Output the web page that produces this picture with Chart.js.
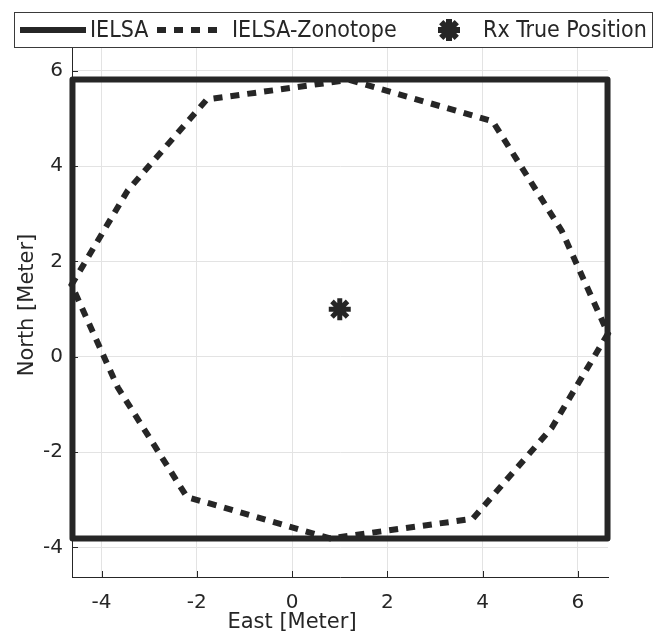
<!DOCTYPE html>
<html>
<head>
<meta charset="utf-8">
<title>IELSA position bounds</title>
<script src="https://cdn.jsdelivr.net/npm/chart.js@4.4.1/dist/chart.umd.min.js"></script>
<style>
  html, body { margin: 0; padding: 0; background: #fff; }
  #wrap { width: 659px; height: 642px; }
</style>
</head>
<body>
<div id="wrap"><canvas id="chartPos" width="659" height="642"></canvas></div>
<script>
/*** data ***/
// IELSA bounding box (closed)
const rectX = [-4.61, 6.62, 6.62, -4.61, -4.61];
const rectY = [-3.81, -3.81, 5.82, 5.82, -3.81];
// IELSA-Zonotope vertices (closed)
const zonoX = [1.2, 4.21, 5.66, 6.63, 5.45, 3.79, 0.8, -2.21, -3.66, -4.63, -3.45, -1.79, 1.2];
const zonoY = [5.81, 4.94, 2.64, 0.49, -1.49, -3.4, -3.81, -2.94, -0.64, 1.51, 3.49, 5.4, 5.81];
// receiver true position
const rxX = [1.0];
const rxY = [1.0];

const xTicks = [-4, -2, 0, 2, 4, 6];
const yTicks = [-4, -2, 0, 2, 4, 6];
const xRange = [-4.62, 6.63];
const yRange = [-4.62, 6.5];
const seriesNames = ['IELSA', 'IELSA-Zonotope', 'Rx True Position'];

/*** styles ***/
const ink = '#262626';
const gridColor = '#e3e3e3';
const tickFont = { family: '"DejaVu Sans", sans-serif', size: 20 };
const legendFont = '23px "DejaVu Sans Condensed", "DejaVu Sans", sans-serif';

function toPoints(xs, ys) {
  return xs.map((x, i) => ({ x: x, y: ys[i] }));
}

// short tick marks pointing into the plot box
const innerTicks = {
  id: 'innerTicks',
  beforeDatasetsDraw(chart) {
    const { ctx, chartArea, scales } = chart;
    ctx.save();
    ctx.strokeStyle = ink;
    ctx.lineWidth = 1;
    ctx.beginPath();
    scales.x.ticks.forEach((t) => {
      const px = Math.round(scales.x.getPixelForValue(t.value)) + 0.5;
      ctx.moveTo(px, chartArea.bottom);
      ctx.lineTo(px, chartArea.bottom - 6);
    });
    scales.y.ticks.forEach((t) => {
      const py = Math.round(scales.y.getPixelForValue(t.value)) + 0.5;
      ctx.moveTo(chartArea.left, py);
      ctx.lineTo(chartArea.left + 6, py);
    });
    ctx.stroke();
    ctx.restore();
  },
};

// axis titles
const axisTitles = {
  id: 'axisTitles',
  afterDraw(chart) {
    const ctx = chart.ctx;
    ctx.save();
    ctx.fillStyle = ink;
    ctx.font = '21px "DejaVu Sans", sans-serif';
    ctx.textAlign = 'center';
    ctx.textBaseline = 'middle';
    ctx.fillText('East [Meter]', 292, 623);
    ctx.translate(28, 305);
    ctx.rotate(-Math.PI / 2);
    ctx.fillText('North [Meter]', 0, 0);
    ctx.restore();
  },
};

// boxed horizontal legend across the top
const legendBox = {
  id: 'legendBox',
  afterDraw(chart) {
    const ctx = chart.ctx;
    const ds = chart.data.datasets;
    const midY = 30;
    ctx.save();
    ctx.fillStyle = '#fff';
    ctx.fillRect(14, 12, 638, 35);
    ctx.strokeStyle = '#3a3a3a';
    ctx.lineWidth = 1;
    ctx.strokeRect(14.5, 12.5, 638, 35);

    // solid line sample
    ctx.strokeStyle = ds[0].borderColor;
    ctx.lineWidth = ds[0].borderWidth;
    ctx.beginPath();
    ctx.moveTo(20, midY);
    ctx.lineTo(86, midY);
    ctx.stroke();

    // dotted line sample
    ctx.setLineDash(ds[1].borderDash);
    ctx.beginPath();
    ctx.moveTo(157, midY);
    ctx.lineTo(225, midY);
    ctx.stroke();
    ctx.setLineDash([]);

    // marker sample
    Chart.helpers.drawPoint(ctx, {
      pointStyle: ds[2].pointStyle,
      radius: ds[2].pointRadius,
      borderWidth: ds[2].pointBorderWidth,
      rotation: 0,
    }, 449, midY);

    ctx.fillStyle = ink;
    ctx.font = legendFont;
    ctx.textAlign = 'left';
    ctx.textBaseline = 'middle';
    ctx.fillText(seriesNames[0], 90, midY + 1);
    ctx.fillText(seriesNames[1], 232, midY + 1);
    ctx.fillText(seriesNames[2], 483, midY + 1);
    ctx.restore();
  },
};

new Chart(document.getElementById('chartPos'), {
  type: 'scatter',
  data: {
    datasets: [
      {
        label: seriesNames[0],
        data: toPoints(rectX, rectY),
        showLine: true,
        borderColor: ink,
        borderWidth: 6,
        borderJoinStyle: 'round',
        borderCapStyle: 'round',
        pointRadius: 0,
        pointHoverRadius: 0,
        clip: false,
      },
      {
        label: seriesNames[1],
        data: toPoints(zonoX, zonoY),
        showLine: true,
        borderColor: ink,
        borderWidth: 6,
        borderDash: [9, 8],
        pointRadius: 0,
        pointHoverRadius: 0,
        clip: false,
      },
      {
        label: seriesNames[2],
        data: toPoints(rxX, rxY),
        pointStyle: 'star',
        pointRadius: 11,
        pointBorderWidth: 5,
        borderColor: ink,
        backgroundColor: ink,
      },
    ],
  },
  options: {
    responsive: false,
    animation: false,
    events: [],
    layout: { padding: { top: 47, right: 51, left: 0, bottom: 0 } },
    plugins: {
      legend: { display: false },
      tooltip: { enabled: false },
    },
    scales: {
      x: {
        type: 'linear',
        min: xRange[0],
        max: xRange[1],
        afterBuildTicks: (scale) => {
          scale.ticks = xTicks.map((v) => ({ value: v }));
        },
        afterFit: (scale) => {
          scale.height = 65;
        },
        grid: { color: gridColor, drawTicks: false },
        border: { color: ink, width: 1 },
        ticks: { color: ink, font: tickFont, padding: 14 },
      },
      y: {
        type: 'linear',
        min: yRange[0],
        max: yRange[1],
        afterBuildTicks: (scale) => {
          scale.ticks = yTicks.map((v) => ({ value: v }));
        },
        afterFit: (scale) => {
          scale.width = 72;
        },
        grid: { color: gridColor, drawTicks: false },
        border: { color: ink, width: 1 },
        ticks: { color: ink, font: tickFont, padding: 9 },
      },
    },
  },
  plugins: [innerTicks, axisTitles, legendBox],
});
</script>
</body>
</html>
